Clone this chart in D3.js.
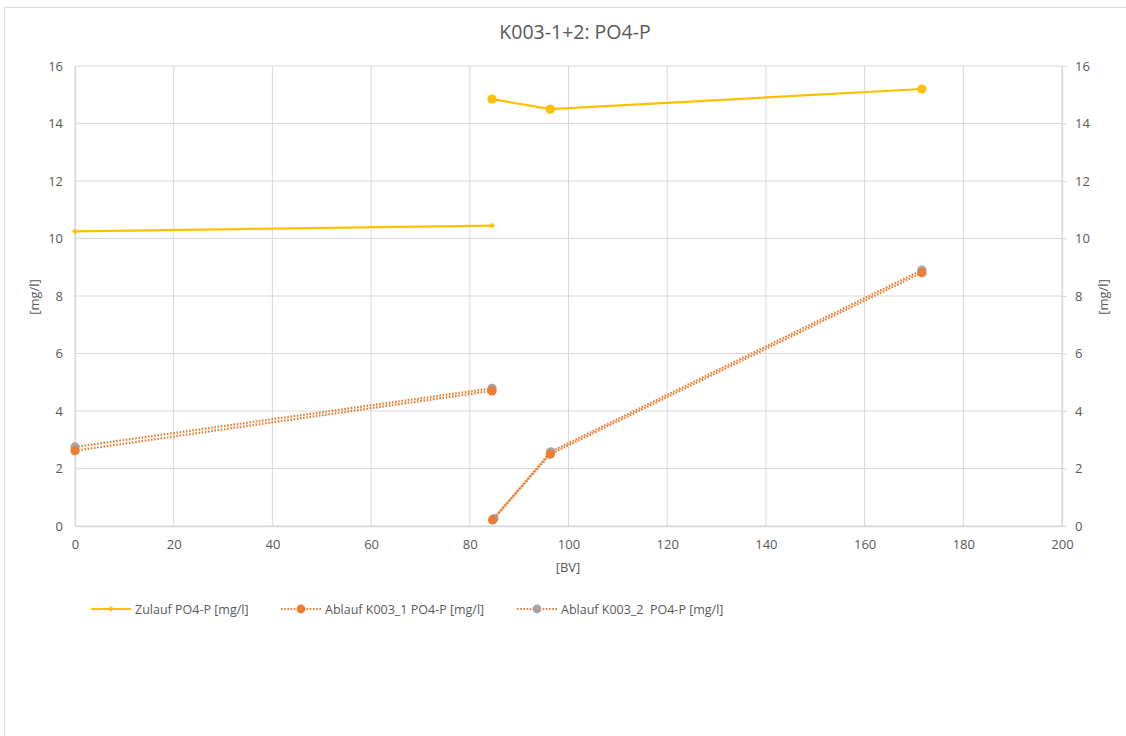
<!DOCTYPE html>
<html>
<head>
<meta charset="utf-8">
<script src="https://cdn.jsdelivr.net/npm/d3@7"></script>
<style>
  html, body { margin: 0; padding: 0; background: #fff; }
  svg { display: block; }
  text { font-family: "Open Sans", "Liberation Sans", sans-serif; fill: #595959; }
</style>
</head>
<body>
<svg id="chart" width="1126" height="736"></svg>
<script>
// Bed volumes [BV] and PO4-P concentrations [mg/l]; null marks a break in the line
const zulaufBV   = [0, 84.5];
const zulaufVal  = [10.25, 10.45];
const zulauf2BV  = [84.5, 96.3, 171.6];
const zulauf2Val = [14.85, 14.5, 15.2];
const ablauf1BV  = [0, 84.5, null, 84.6, 96.3, 171.6];
const ablauf1Val = [2.62, 4.7, null, 0.21, 2.5, 8.81];
const ablauf2BV  = [0, 84.5, null, 84.9, 96.4, 171.6];
const ablauf2Val = [2.75, 4.79, null, 0.26, 2.58, 8.9];

const xTicks = [0, 20, 40, 60, 80, 100, 120, 140, 160, 180, 200];
const yTicks = [0, 2, 4, 6, 8, 10, 12, 14, 16];

const title = "K003-1+2: PO4-P";
const xTitle = "[BV]";
const yTitle = "[mg/l]";
const legendNames = ["Zulauf PO4-P [mg/l]", "Ablauf K003_1 PO4-P [mg/l]", "Ablauf K003_2  PO4-P [mg/l]"];

const YELLOW = "#FFC000", ORANGE = "#ED7D31", GREY = "#A5A5A5", GRID = "#D9D9D9";

const svg = d3.select("#chart");
const plot = { left: 75, right: 1062, top: 66, bottom: 526 };

const x = d3.scaleLinear().domain([0, 200]).range([plot.left, plot.right]);
const y = d3.scaleLinear().domain([0, 16]).range([plot.bottom, plot.top]);

// chart frame
svg.append("path")
  .attr("d", `M4.5,740 V7.5 H1130`)
  .attr("fill", "none").attr("stroke", GRID).attr("stroke-width", 1);

// title
svg.append("text").attr("x", 575).attr("y", 39).attr("text-anchor", "middle")
  .style("font-size", "19.5px").text(title);

// gridlines
svg.append("g").selectAll("line").data(xTicks).join("line")
  .attr("x1", d => x(d)).attr("x2", d => x(d))
  .attr("y1", plot.top).attr("y2", plot.bottom)
  .attr("stroke", GRID).attr("stroke-width", 1);
svg.append("g").selectAll("line").data(yTicks).join("line")
  .attr("x1", plot.left).attr("x2", plot.right)
  .attr("y1", d => y(d)).attr("y2", d => y(d))
  .attr("stroke", GRID).attr("stroke-width", 1);

// axes
const styleAxis = (g) => {
  g.select(".domain").attr("stroke", GRID).attr("stroke-width", 1.3);
  g.selectAll(".tick line").attr("stroke", GRID);
  g.selectAll(".tick text").style("font-size", "13px").attr("fill", "#595959")
    .style("font-family", "'Open Sans', sans-serif");
};
svg.append("g").attr("transform", `translate(0,${plot.bottom})`)
  .call(d3.axisBottom(x).tickValues(xTicks).tickSize(0).tickPadding(14).tickSizeOuter(0))
  .call(styleAxis);
svg.append("g").attr("transform", `translate(${plot.left},0)`)
  .call(d3.axisLeft(y).tickValues(yTicks).tickSize(0).tickPadding(12).tickSizeOuter(0))
  .call(styleAxis);
svg.append("g").attr("transform", `translate(${plot.right},0)`)
  .call(d3.axisRight(y).tickValues(yTicks).tickSize(5).tickPadding(8).tickSizeOuter(0))
  .call(styleAxis);

// axis titles
svg.append("text").attr("x", 568).attr("y", 572).attr("text-anchor", "middle")
  .style("font-size", "13px").text(xTitle);
svg.append("text").attr("transform", "translate(39,297) rotate(-90)").attr("text-anchor", "middle")
  .style("font-size", "13px").text(yTitle);
svg.append("text").attr("transform", "translate(1108,297) rotate(-90)").attr("text-anchor", "middle")
  .style("font-size", "13px").text(yTitle);

// series
const toPts = (xs, ys) => xs.map((v, i) => ({ bv: v, val: ys[i] }));
const line = d3.line().defined(d => d.bv !== null && d.val !== null)
  .x(d => x(d.bv)).y(d => y(d.val));

const series = [
  { pts: toPts(ablauf1BV, ablauf1Val), stroke: ORANGE, dash: "1.6 1.6", marker: "circle", fill: ORANGE, r: 4.6 },
  { pts: toPts(ablauf2BV, ablauf2Val), stroke: ORANGE, dash: "1.6 1.6", marker: "circle", fill: GREY, r: 4.6 },
  { pts: toPts(zulaufBV, zulaufVal), stroke: YELLOW, dash: null, marker: "diamond", fill: YELLOW, r: 3 },
  { pts: toPts(zulauf2BV, zulauf2Val), stroke: YELLOW, dash: null, marker: "circle", fill: YELLOW, r: 4.6 }
];

// draw lines first, then markers on top
series.slice().reverse().forEach(s => {
  svg.append("path").datum(s.pts).attr("d", line)
    .attr("fill", "none").attr("stroke", s.stroke).attr("stroke-width", 2.2)
    .attr("stroke-dasharray", s.dash).attr("stroke-linejoin", "round");
});
series.slice().reverse().forEach(s => {
  const pts = s.pts.filter(d => d.bv !== null && d.val !== null);
  const g = svg.append("g");
  if (s.marker === "circle") {
    g.selectAll("circle").data(pts).join("circle")
      .attr("cx", d => x(d.bv)).attr("cy", d => y(d.val)).attr("r", s.r)
      .attr("fill", s.fill);
  } else {
    g.selectAll("path").data(pts).join("path")
      .attr("d", d3.symbol().type(d3.symbolDiamond2).size(22))
      .attr("transform", d => `translate(${x(d.bv)},${y(d.val)})`)
      .attr("fill", s.fill);
  }
});

// legend
const legendItems = [
  { name: legendNames[0], x0: 91, stroke: YELLOW, dash: null, marker: "diamond", fill: YELLOW },
  { name: legendNames[1], x0: 281, stroke: ORANGE, dash: "1.6 1.6", marker: "circle", fill: ORANGE },
  { name: legendNames[2], x0: 517, stroke: ORANGE, dash: "1.6 1.6", marker: "circle", fill: GREY }
];
const ly = 609;
const lg = svg.append("g");
legendItems.forEach(it => {
  lg.append("line").attr("x1", it.x0).attr("x2", it.x0 + 40).attr("y1", ly).attr("y2", ly)
    .attr("stroke", it.stroke).attr("stroke-width", 2.2).attr("stroke-dasharray", it.dash);
  if (it.marker === "circle") {
    lg.append("circle").attr("cx", it.x0 + 20).attr("cy", ly).attr("r", 4.4).attr("fill", it.fill);
  } else {
    lg.append("path").attr("d", d3.symbol().type(d3.symbolDiamond2).size(22))
      .attr("transform", `translate(${it.x0 + 20},${ly})`).attr("fill", it.fill);
  }
  lg.append("text").attr("x", it.x0 + 44).attr("y", ly + 4.5)
    .style("font-size", "12.5px").style("white-space", "pre").attr("xml:space", "preserve").text(it.name);
});
</script>
</body>
</html>
